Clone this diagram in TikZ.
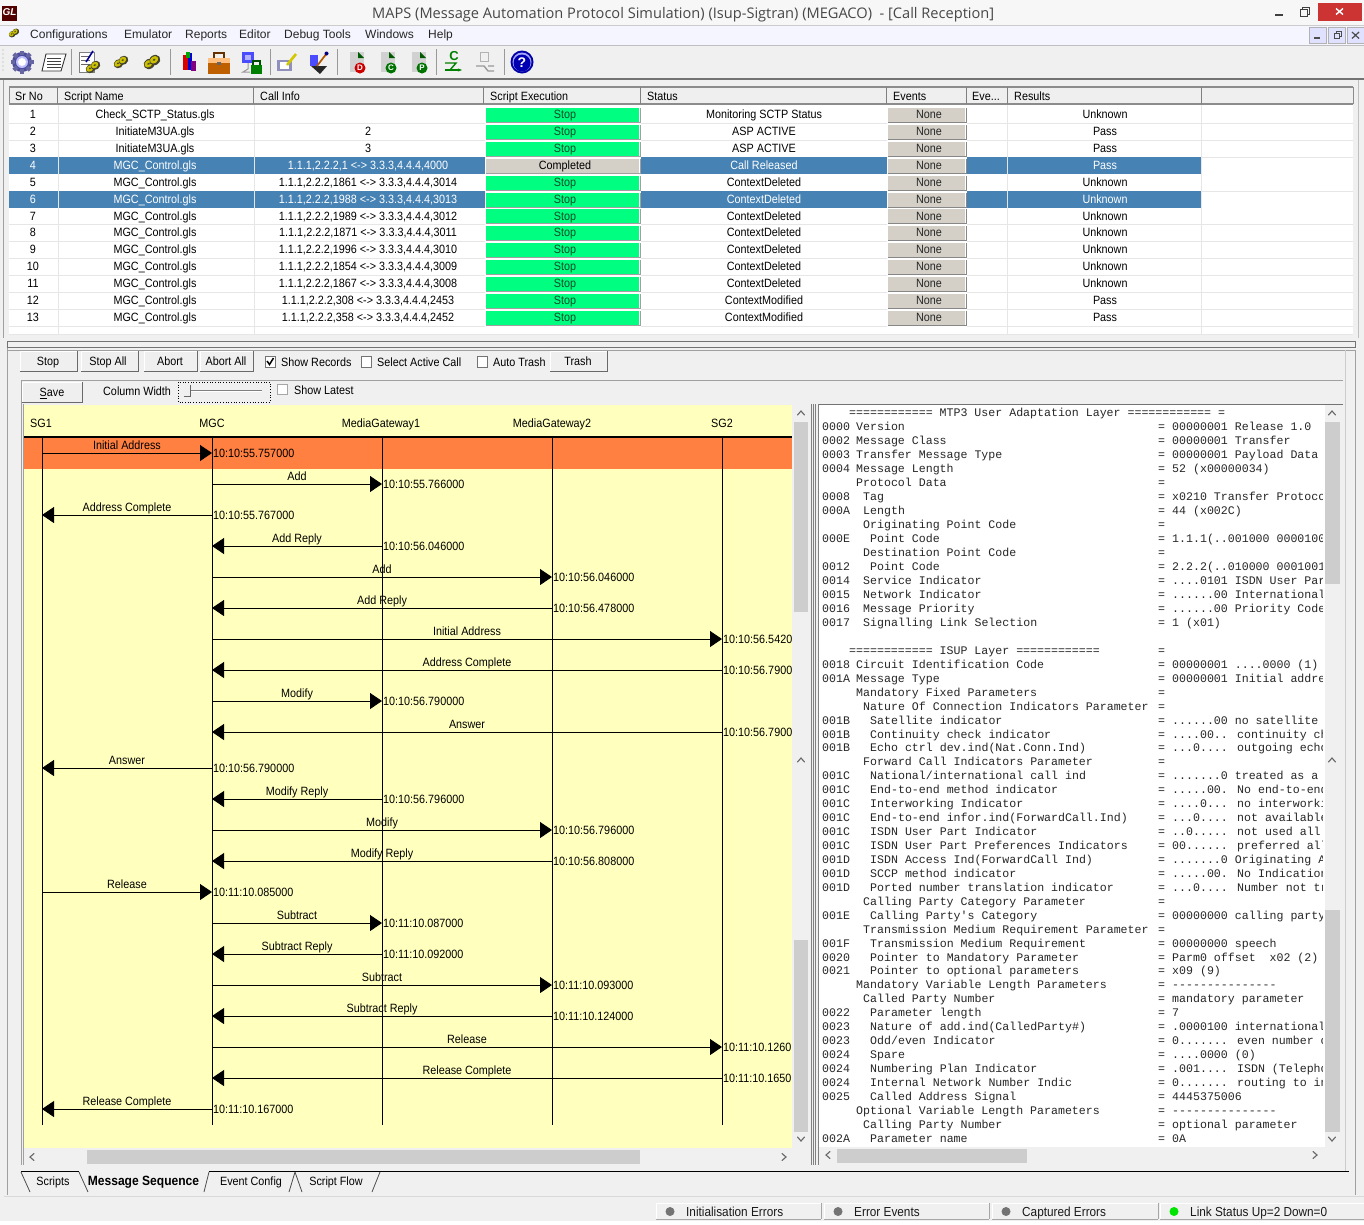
\documentclass[tikz,border=0pt]{standalone}
\usepackage{fontspec}
\setmainfont{Liberation Sans}
\newfontfamily\uifont[FakeStretch=0.9]{Liberation Sans}
\newfontfamily\titlefont{Open Sans}
\newfontfamily\monofnt{Liberation Mono}
\usetikzlibrary{arrows.meta,shapes.geometric}
\definecolor{winbg}{HTML}{F0F0F0}
\definecolor{sel}{HTML}{4682B4}
\definecolor{runbtn}{HTML}{00FF80}
\definecolor{dimbtn}{HTML}{D4D0C8}
\definecolor{seqbg}{HTML}{FFFFBE}
\definecolor{band}{HTML}{FF8040}
\definecolor{thumb}{HTML}{CDCDCD}
\definecolor{edge}{HTML}{A0A0A0}
\definecolor{darkedge}{HTML}{696969}
\definecolor{gridc}{HTML}{E6E6E6}
\definecolor{stoptext}{HTML}{0A4A2A}
\definecolor{btnface}{HTML}{EFEFEF}
\tikzset{
  x=1pt,y=-1pt,
  ui/.style={inner sep=0pt,anchor=base,font=\uifont\fontsize{12}{14}\selectfont,text=black},
  uil/.style={ui,anchor=base west},
  stat/.style={inner sep=0pt,anchor=base west,font=\uifont\fontsize{13.1}{15}\selectfont,text=black!90},
  menu/.style={inner sep=0pt,anchor=base west,font=\fontsize{12}{14}\selectfont,text=black!85},
  mono/.style={inner sep=0pt,anchor=base west,font=\monofnt\fontsize{11.6}{13}\selectfont,text=black!85},
  msgline/.style={draw=black,line width=0.9pt},
  msgarrow/.style={msgline,-{Triangle[length=12pt,width=16pt]}},
  lifeline/.style={draw=black,line width=0.9pt},
  chk/.style={draw=black!55,fill=white,line width=0.7pt},
  scrarrow/.style={draw=black!60,line width=1.1pt,line cap=round},
}
% raised button
\newcommand{\rbtn}[4]{%x0,y0,x1,y1
  \fill[btnface] (#1,#2) rectangle (#3,#4);
  \draw[white,line width=1pt] (#1,#4)--(#1,#2)--(#3,#2);
  \draw[darkedge,line width=1pt] (#1,#4)--(#3,#4)--(#3,#2);
}
% table row
\newcommand{\trow}[9]{%top y,base,sr,name,call,exec,status,result,selected
  \ifnum#9=1 \fill[sel] (9,#1) rectangle (1201,#1+16.9); \def\tc{white}\else\def\tc{black}\fi
  \node[ui,text=\tc] at (33,#2-0.5) {#3};
  \node[ui,text=\tc] at (155,#2-0.5) {#4};
  \node[ui,text=\tc] at (368,#2-0.5) {#5};
  \node[ui,text=\tc] at (764,#2-0.5) {#7};
  \node[ui,text=\tc] at (1105,#2-0.5) {#8};
  \fill[white] (485,#1) rectangle (641,#1+16.9);
  \def\ex{#6}\def\cmp{Completed}%
  \ifx\ex\cmp
    \fill[dimbtn] (486,#1+1.5) rectangle (639,#1+15.8);
    \node[ui] at (565,#2-0.5) {Completed};
  \else
    \fill[runbtn] (486,#1+1.5) rectangle (639,#1+15.8);
    \node[ui,text=stoptext] at (565,#2-0.5) {Stop};
  \fi
  \draw[edge,line width=1pt] (486,#1+16)--(640,#1+16)--(640,#1+1.5);
  \fill[white] (887,#1) rectangle (967,#1+16.9);
  \fill[dimbtn] (888,#1+1.5) rectangle (965,#1+15.8);
  \draw[darkedge!80,line width=1pt] (888,#1+16)--(966,#1+16)--(966,#1+1.5);
  \node[ui,text=black!85] at (929,#2-0.5) {None};
  \ifnum#9=1\else
   \draw[gridc,line width=0.7pt] (9,#1+16.9)--(485,#1+16.9) (641,#1+16.9)--(887,#1+16.9) (967,#1+16.9)--(1353,#1+16.9);
  \fi
}
\newcounter{mcnt}
\newcommand{\msg}[6]{%y,from,to,label,time x lifeline,time
  \stepcounter{mcnt}%
  \coordinate (ms\themcnt) at (#2 |- 0,#1);
  \coordinate (me\themcnt) at (#3 |- 0,#1);
  \draw[msgarrow] (ms\themcnt) -- (me\themcnt);
  \path (ms\themcnt) -- (me\themcnt) node[midway,ui,yshift=4pt] (ml\themcnt) {#4};
  \node[uil,anchor=base west] (mt\themcnt) at ([xshift=1pt,yshift=-4.5pt]#5 |- 0,#1) {#6};
}
\newcounter{rline}
\def\rbase{426}\def\rstep{14}
\newcommand{\rl}[4]{%code,level x,text,value
  \pgfmathsetmacro{\ry}{\rbase+\therline*\rstep+4.3}%
  \node[mono] at (822,\ry) {#1};
  \node[mono] at (#2,\ry) {#3};
  \node[mono] at (1158,\ry) {=};
  \node[mono] at (1172,\ry) {#4};
  \stepcounter{rline}%
}
% scrollbar glyphs
\newcommand{\aup}[2]{\draw[scrarrow] (#1-3.5,#2+2)--(#1,#2-2)--(#1+3.5,#2+2);}
\newcommand{\adn}[2]{\draw[scrarrow] (#1-3.5,#2-2)--(#1,#2+2)--(#1+3.5,#2-2);}
\newcommand{\alf}[2]{\draw[scrarrow] (#1+2,#2-3.5)--(#1-2,#2)--(#1+2,#2+3.5);}
\newcommand{\art}[2]{\draw[scrarrow] (#1-2,#2-3.5)--(#1+2,#2)--(#1-2,#2+3.5);}
% icons
\newcommand{\coil}[3]{% x,y,size
  \foreach \d in {-1,1}{
   \fill[rotate around={35:(#1,#2)},fill=black!65!olive] (#1+\d*#3*.42,#2) ellipse ({#3*.72} and {#3*.62});
   \fill[rotate around={35:(#1,#2)},fill=yellow!55!olive] (#1+\d*#3*.42-0.4,#2-0.6) ellipse ({#3*.55} and {#3*.42});
   \fill[rotate around={35:(#1,#2)},fill=black!55!olive] (#1+\d*#3*.42-0.4,#2-0.6) ellipse ({#3*.2} and {#3*.14});
  }
}
\newcommand{\pagei}[6]{% x,y,circle colour,letter,letter colour
  \fill[black!18] (#1-7,#2-10) rectangle (#1+7,#2+10);
  \fill[#6] (#1+1,#2-10)--(#1+7,#2-4)--(#1+1,#2-4)--cycle;
  \fill[#3] (#1+3,#2+6) circle (5.5);
  \node[inner sep=0pt,font=\bfseries\fontsize{8}{8}\selectfont,text=#5] at (#1+3,#2+6) {#4};
}
\begin{document}
\begin{tikzpicture}
\useasboundingbox (0,0) rectangle (1364,1224);
\fill[winbg] (0,0) rectangle (1364,1224);
%% title bar
\fill[white!97!black] (0,0) rectangle (1364,25);
\fill[black!60!red!80!black] (2,6) rectangle (17,21);
\node[inner sep=0pt,font=\bfseries\itshape\fontsize{10}{10}\selectfont,text=white] (logo) at (9.5,12.5) {GL};
\node[inner sep=0pt,anchor=base west,font=\titlefont\fontsize{14.6}{16}\selectfont,text=black!72] (title) at (372,18.5) {MAPS (Message Automation Protocol Simulation) (Isup-Sigtran) (MEGACO)\ \ - [Call Reception]};
\fill[black!75] (1275,14) rectangle (1283,15.5);
\draw[black!75,line width=1pt] (1300,9) rectangle (1307,16);
\draw[black!75,line width=1pt] (1302,9)--(1302,7)--(1309,7)--(1309,14)--(1307,14);
\fill[red!60!gray] (1318,3) rectangle (1362,21);
\draw[white,line width=1.4pt] (1336,8.5)--(1343,14.5) (1343,8.5)--(1336,14.5);
%% menu
\fill[white!96!blue] (0,25) rectangle (1364,45);
\draw[black!20] (0,25)--(1364,25);
\coil{14}{33}{5}
\node[menu] (m1) at (30,38.5) {Configurations};
\node[menu] (m2) at (124,38.5) {Emulator};
\node[menu] (m3) at (185,38.5) {Reports};
\node[menu] (m4) at (239,38.5) {Editor};
\node[menu] (m5) at (284,38.5) {Debug Tools};
\node[menu] (m6) at (365,38.5) {Windows};
\node[menu] (m7) at (428,38.5) {Help};
\foreach \a/\b in {1309/1326,1328/1345,1347/1364}{
  \fill[blue!12!white] (\a,27) rectangle (\b,43);
  \draw[black!30] (\a,27) rectangle (\b,43);
}
\fill[black!70] (1314,37) rectangle (1320,38.5);
\draw[black!70] (1334,33) rectangle (1339,38) (1336,33)--(1336,31)--(1341,31)--(1341,36)--(1339,36);
\draw[black!70,line width=1.2pt] (1352,32)--(1359,38.5) (1359,32)--(1352,38.5);
%% toolbar
\draw[black!25] (0,45)--(1364,45);
\foreach \yy in {50,54,58,62,66,70}{\fill[black!35] (3,\yy) circle (0.7);}
\foreach \xx in {71,170,270,337,436,504}{\draw[black!40,line width=0.8pt] (\xx,49)--(\xx,75);}
% gear
\fill[black!55!blue!70!white] (22,62) circle (10);
\foreach \ang in {0,45,...,315}{\fill[black!60!blue!60!white,rotate around={\ang:(22,62)}] (20,50.5) rectangle (24,55);}
\fill[blue!25!white] (22,62) circle (6);
\fill[white] (22,62) circle (4);
% doc
\fill[white] (46,54)--(66,54)--(61,71)--(42,71)--cycle;
\draw[black!80,line width=0.9pt] (46,54)--(66,54)--(61,71)--(42,71)--cycle;
\foreach \yy in {58,61,64,67}{\draw[black!75,line width=0.9pt] (47,\yy)--(61,\yy);}
% doc + coil
\fill[white] (79,52) rectangle (94,72);
\draw[black!50] (79,52) rectangle (94,72);
\foreach \yy in {56,60,64}{\draw[black!60] (81,\yy)--(90,\yy);}
\draw[blue!60!black,line width=1.6pt] (86,62)--(93,51);
\coil{93}{67}{7}
\coil{121}{62}{7}
\coil{152}{62}{8}
% books
\fill[red!85!black] (183,55) rectangle (188,70);
\fill[blue!85!black] (188,53) rectangle (192,70);
\fill[green!65!black] (186,52) rectangle (190,58);
\fill[violet] (191,61) rectangle (196,71);
% briefcase
\fill[orange!75!black] (208,58) rectangle (230,74);
\draw[black!60!orange,line width=1.4pt] (214,58)--(214,53)--(224,53)--(224,58);
\fill[orange!50!white] (208,58) rectangle (230,63);
\fill[black!60] (217,62) rectangle (221,65);
% network
\fill[blue!70!white] (242,52) rectangle (254,63);
\fill[blue!30!white] (245,55) rectangle (251,60);
\draw[black!40,line width=1pt] (248,63)--(248,69)--(243,72)--(250,72);
\fill[green!50!black] (251,65) rectangle (262,74);
\draw[green!30!black,line width=1.2pt] (253,65)--(253,61)--(260,61)--(260,65);
% pen speech
\fill[blue!25!gray!70] (277,60) rectangle (292,71);
\fill[white] (280,62) rectangle (289,69);
\draw[yellow!60!olive,line width=2.6pt] (287,65)--(296,54);
% wand
\fill[black!85] (311,66)--(327,66)--(320,74)--cycle;
\fill[blue!70!white] (310,55) rectangle (318,66);
\draw[orange!70!black,line width=1.7pt] (317,66)--(327,53);
\fill[blue!50!black] (326.5,53.5) circle (2);
% pages
\pagei{357}{62}{red!80!black}{D}{white}{green!35!black}
\pagei{388}{62}{green!45!black}{C}{white}{green!35!black}
\pagei{419}{62}{green!45!black}{P}{white}{green!35!black}
\node[inner sep=0pt,font=\bfseries\fontsize{13}{13}\selectfont,text=green!50!black] (cico) at (454,56) {C};
\draw[green!50!black,line width=1.4pt,-{Stealth[length=4pt]}] (445,70)--(462,70);
\draw[green!50!black,line width=1.4pt] (445,63)--(456,63)--(450,70);
\draw[black!30,line width=1pt] (480,52) rectangle (488,61);
\draw[black!40,line width=1.4pt] (476,66)--(484,66)--(488,71)--(494,71) (488,66)--(494,66);
% help
\fill[blue!65!black] (522,62) circle (11.5);
\fill[blue!35!white] (522,62) circle (9.5);
\fill[blue!70!black] (522,63) circle (8.5);
\node[inner sep=0pt,font=\bfseries\fontsize{14}{14}\selectfont,text=white] (hico) at (522,62.5) {?};
\draw[black!55,line width=1.2pt] (0,79)--(1364,79);
%% table
\draw[edge,line width=0.8pt] (3,80)--(3,338);
\draw[black!25,line width=0.8pt] (1358,80)--(1358,338);
\fill[white] (9,104) rectangle (1353,335);
\fill[btnface] (9,87) rectangle (1353,104);
\draw[black!45,line width=1.2pt] (9,87)--(1353,87) (9,104)--(1353,104);
\foreach \xx in {57,253,483,640,886,966,1007,1201}{\draw[black!50,line width=1pt] (\xx,87)--(\xx,104);}
\draw[black!45,line width=0.8pt] (9,87)--(9,104) (1353,87)--(1353,104);
\foreach \tx/\tlab in {15/Sr No,64/Script Name,260/Call Info,490/Script Execution,647/Status,893/Events,1014/Results}{
  \node[uil] at (\tx,100) {\tlab};
}
\node[uil] (hEve) at (972,100) {Eve...};
\trow{106.5}{119}{1}{Check\_SCTP\_Status.gls}{}{Stop}{Monitoring SCTP Status}{Unknown}{0}
\trow{123.4}{136}{2}{InitiateM3UA.gls}{2}{Stop}{ASP ACTIVE}{Pass}{0}
\trow{140.3}{153}{3}{InitiateM3UA.gls}{3}{Stop}{ASP ACTIVE}{Pass}{0}
\trow{157.2}{170}{4}{MGC\_Control.gls}{1.1.1,2.2.2,1 <-> 3.3.3,4.4.4,4000}{Completed}{Call Released}{Pass}{1}
\trow{174.1}{186.5}{5}{MGC\_Control.gls}{1.1.1,2.2.2,1861 <-> 3.3.3,4.4.4,3014}{Stop}{ContextDeleted}{Unknown}{0}
\trow{191}{203.5}{6}{MGC\_Control.gls}{1.1.1,2.2.2,1988 <-> 3.3.3,4.4.4,3013}{Stop}{ContextDeleted}{Unknown}{1}
\trow{207.9}{220.5}{7}{MGC\_Control.gls}{1.1.1,2.2.2,1989 <-> 3.3.3,4.4.4,3012}{Stop}{ContextDeleted}{Unknown}{0}
\trow{224.8}{237}{8}{MGC\_Control.gls}{1.1.1,2.2.2,1871 <-> 3.3.3,4.4.4,3011}{Stop}{ContextDeleted}{Unknown}{0}
\trow{241.7}{254}{9}{MGC\_Control.gls}{1.1.1,2.2.2,1996 <-> 3.3.3,4.4.4,3010}{Stop}{ContextDeleted}{Unknown}{0}
\trow{258.6}{271}{10}{MGC\_Control.gls}{1.1.1,2.2.2,1854 <-> 3.3.3,4.4.4,3009}{Stop}{ContextDeleted}{Unknown}{0}
\trow{275.5}{288}{11}{MGC\_Control.gls}{1.1.1,2.2.2,1867 <-> 3.3.3,4.4.4,3008}{Stop}{ContextDeleted}{Unknown}{0}
\trow{292.4}{305}{12}{MGC\_Control.gls}{1.1.1,2.2.2,308 <-> 3.3.3,4.4.4,2453}{Stop}{ContextModified}{Pass}{0}
\trow{309.3}{322}{13}{MGC\_Control.gls}{1.1.1,2.2.2,358 <-> 3.3.3,4.4.4,2452}{Stop}{ContextModified}{Pass}{0}
\foreach \xx in {58,254,1007,1201}{\draw[gridc,line width=0.7pt] (\xx,105)--(\xx,335);}
\draw[gridc,line width=0.7pt] (9,334)--(1353,334);
%% divider
\draw[black!55,line width=0.9pt,fill=winbg] (7,341) rectangle (1355,347.5);
\draw[edge,line width=0.8pt] (7,350)--(1355,350) (7,347.5)--(7,1195) (1355,350)--(1355,1195);
\draw[black!20,line width=0.8pt] (1345,350)--(1345,1172);
%% control row
\rbtn{20}{351}{77}{371}
\rbtn{81}{351}{138}{371}
\rbtn{144}{351}{197}{371}
\rbtn{200}{351}{253}{371}
\rbtn{550}{351}{607}{371}
\node[ui] (bstop) at (48,365) {Stop};
\node[ui] (bstopall) at (108,365) {Stop All};
\node[ui] (babort) at (170,365) {Abort};
\node[ui] (babortall) at (226,365) {Abort All};
\node[ui] (btrash) at (578,365) {Trash};
\draw[chk] (265,356) rectangle (275,367);
\draw[black,line width=1.5pt] (267,361)--(269.5,364.5)--(273.5,358);
\node[uil] (lrec) at (281,366) {Show Records};
\draw[chk] (361,356) rectangle (371,367);
\node[uil] (lact) at (377,366) {Select Active Call};
\draw[chk] (477,356) rectangle (487,367);
\node[uil] (ltrash) at (493,366) {Auto Trash};
\rbtn{22}{382}{82}{402}
\node[ui] (bsave) at (52,396.5) {\underline{S}ave};
\node[uil] (lcw) at (103,395) {Column Width};
\draw[black,dotted,line width=0.7pt] (178,382) rectangle (270,402);
\draw[black!50,line width=1pt] (187,390)--(262,390);
\draw[white,line width=1pt] (187,391)--(262,391);
\fill[btnface] (184,385) rectangle (190,396);
\draw[black!60] (184,396)--(190,396)--(190,385);
\draw[chk,draw=black!35] (277,384) rectangle (287,394);
\node[uil] (llat) at (294,394) {Show Latest};
\draw[edge,line width=0.8pt] (21,380)--(1343,380);
\draw[edge,line width=0.8pt] (21,380)--(21,1165) (23,404)--(23,1165);
%% sequence panel
\fill[seqbg] (24,405) rectangle (792,1148);
\coordinate (SG1) at (42,438);
\coordinate (MGC) at (212,438);
\coordinate (MGA) at (382,438);
\coordinate (MGB) at (552,438);
\coordinate (SGB) at (722,438);
\coordinate (SG1e) at (42,1125);
\coordinate (MGCe) at (212,1125);
\coordinate (MGAe) at (382,1125);
\coordinate (MGBe) at (552,1125);
\coordinate (SGBe) at (722,1125);
\begin{scope}
\clip (24,405) rectangle (792,1148);
\fill[band] (24,438) rectangle (792,469);
\draw[black,line width=1.6pt] (24,437)--(792,437);
\node[ui] (hSG1) at (41,427) {SG1};
\node[ui] (hMGC) at (212,427) {MGC};
\node[ui] (hMGA) at (381,427) {MediaGateway1};
\node[ui] (hMGB) at (552,427) {MediaGateway2};
\node[ui] (hSGB) at (722,427) {SG2};
\draw[lifeline] (SG1)--(SG1e);
\draw[lifeline] (MGC)--(MGCe);
\draw[lifeline] (MGA)--(MGAe);
\draw[lifeline] (MGB)--(MGBe);
\draw[lifeline] (SGB)--(SGBe);
\msg{453}{SG1}{MGC}{Initial Address}{MGC}{10:10:55.757000}
\msg{484}{MGC}{MGA}{Add}{MGA}{10:10:55.766000}
\msg{515}{MGC}{SG1}{Address Complete}{MGC}{10:10:55.767000}
\msg{546}{MGA}{MGC}{Add Reply}{MGA}{10:10:56.046000}
\msg{577}{MGC}{MGB}{Add}{MGB}{10:10:56.046000}
\msg{608}{MGB}{MGC}{Add Reply}{MGB}{10:10:56.478000}
\msg{639}{MGC}{SGB}{Initial Address}{SGB}{10:10:56.5420}
\msg{670}{SGB}{MGC}{Address Complete}{SGB}{10:10:56.7900}
\msg{701}{MGC}{MGA}{Modify}{MGA}{10:10:56.790000}
\msg{732}{SGB}{MGC}{Answer}{SGB}{10:10:56.7900}
\msg{768}{MGC}{SG1}{Answer}{MGC}{10:10:56.790000}
\msg{799}{MGA}{MGC}{Modify Reply}{MGA}{10:10:56.796000}
\msg{830}{MGC}{MGB}{Modify}{MGB}{10:10:56.796000}
\msg{861}{MGB}{MGC}{Modify Reply}{MGB}{10:10:56.808000}
\msg{892}{SG1}{MGC}{Release}{MGC}{10:11:10.085000}
\msg{923}{MGC}{MGA}{Subtract}{MGA}{10:11:10.087000}
\msg{954}{MGA}{MGC}{Subtract Reply}{MGA}{10:11:10.092000}
\msg{985}{MGC}{MGB}{Subtract}{MGB}{10:11:10.093000}
\msg{1016}{MGB}{MGC}{Subtract Reply}{MGB}{10:11:10.124000}
\msg{1047}{MGC}{SGB}{Release}{SGB}{10:11:10.1260}
\msg{1078}{SGB}{MGC}{Release Complete}{SGB}{10:11:10.1650}
\msg{1109}{MGC}{SG1}{Release Complete}{MGC}{10:11:10.167000}
\end{scope}
% sequence scrollbars
\fill[thumb] (794,422) rectangle (808,612);
\fill[thumb] (794,940) rectangle (808,1132);
\aup{801}{413} \aup{801}{760} \adn{801}{1139}
\fill[thumb] (87,1150) rectangle (640,1164);
\alf{32}{1157} \art{784}{1157}
% sash
\draw[black!50,line width=0.8pt] (811,404)--(811,1165) (813,404)--(813,1165) (818,404)--(818,1165) (815.5,404)--(815.5,1165);
%% decode panel
\fill[white] (819,405) rectangle (1325,1147);
\draw[black!55,line width=0.8pt] (819,404)--(1343,404);
\begin{scope}
\clip (819,405) rectangle (1322.5,1147);
\node[mono] (hdrA) at (849,416.3) {============ MTP3 User Adaptation Layer ============ =};
\def\rbase{426}\def\rstep{14}
\setcounter{rline}{0}
\rl{0000}{856}{Version}{00000001 Release 1.0}
\rl{0002}{856}{Message Class}{00000001 Transfer}
\rl{0003}{856}{Transfer Message Type}{00000001 Payload Data}
\rl{0004}{856}{Message Length}{52 (x00000034)}
\rl{}{856}{Protocol Data}{}
\rl{0008}{863}{Tag}{x0210 Transfer Protocol}
\rl{000A}{863}{Length}{44 (x002C)}
\rl{}{863}{Originating Point Code}{}
\rl{000E}{870}{Point Code}{1.1.1(..001000 00001000)}
\rl{}{863}{Destination Point Code}{}
\rl{0012}{870}{Point Code}{2.2.2(..010000 00010010)}
\rl{0014}{863}{Service Indicator}{....0101 ISDN User Part}
\rl{0015}{863}{Network Indicator}{......00 International}
\rl{0016}{863}{Message Priority}{......00 Priority Code}
\rl{0017}{863}{Signalling Link Selection}{1 (x01)}
\node[mono] (hdrB) at (849,654.3) {============ ISUP Layer ============};
\node[mono] (hdrBe) at (1158,654.3) {=};
\def\rbase{664}\def\rstep{13.94}
\setcounter{rline}{0}
\rl{0018}{856}{Circuit Identification Code}{00000001 ....0000 (1)}
\rl{001A}{856}{Message Type}{00000001 Initial address}
\rl{}{856}{Mandatory Fixed Parameters}{}
\rl{}{863}{Nature Of Connection Indicators Parameter}{}
\rl{001B}{870}{Satellite indicator}{......00 no satellite}
\rl{001B}{870}{Continuity check indicator}{....00.. continuity check}
\rl{001B}{870}{Echo ctrl dev.ind(Nat.Conn.Ind)}{...0.... outgoing echo}
\rl{}{863}{Forward Call Indicators Parameter}{}
\rl{001C}{870}{National/international call ind}{.......0 treated as a}
\rl{001C}{870}{End-to-end method indicator}{.....00. No end-to-end}
\rl{001C}{870}{Interworking Indicator}{....0... no interworking}
\rl{001C}{870}{End-to-end infor.ind(ForwardCall.Ind)}{...0.... not available}
\rl{001C}{870}{ISDN User Part Indicator}{..0..... not used all}
\rl{001C}{870}{ISDN User Part Preferences Indicators}{00...... preferred all}
\rl{001D}{870}{ISDN Access Ind(ForwardCall Ind)}{.......0 Originating A}
\rl{001D}{870}{SCCP method indicator}{.....00. No Indication}
\rl{001D}{870}{Ported number translation indicator}{...0.... Number not tr}
\rl{}{863}{Calling Party Category Parameter}{}
\rl{001E}{870}{Calling Party's Category}{00000000 calling party}
\rl{}{863}{Transmission Medium Requirement Parameter}{}
\rl{001F}{870}{Transmission Medium Requirement}{00000000 speech}
\rl{0020}{870}{Pointer to Mandatory Parameter}{Parm0 offset\ \ x02 (2)}
\rl{0021}{870}{Pointer to optional parameters}{x09 (9)}
\rl{}{856}{Mandatory Variable Length Parameters}{---------------}
\rl{}{863}{Called Party Number}{mandatory parameter}
\rl{0022}{870}{Parameter length}{7}
\rl{0023}{870}{Nature of add.ind(CalledParty\#)}{.0000100 international}
\rl{0023}{870}{Odd/even Indicator}{0....... even number of}
\rl{0024}{870}{Spare}{....0000 (0)}
\rl{0024}{870}{Numbering Plan Indicator}{.001.... ISDN (Telephony)}
\rl{0024}{870}{Internal Network Number Indic}{0....... routing to int}
\rl{0025}{870}{Called Address Signal}{4445375006}
\rl{}{856}{Optional Variable Length Parameters}{---------------}
\rl{}{863}{Calling Party Number}{optional parameter}
\rl{002A}{870}{Parameter name}{0A}
\end{scope}
% decode scrollbars
\fill[thumb] (1325,422) rectangle (1340,584);
\fill[thumb] (1325,910) rectangle (1340,1132);
\aup{1332}{413} \aup{1332}{760} \adn{1332}{1139}
\fill[thumb] (837,1149) rectangle (1027,1163);
\alf{828}{1155} \art{1315}{1155}
%% tabs
\draw[black,line width=1pt] (21,1171.5)--(79,1171.5) (209,1171.5)--(1349,1171.5);
\fill[winbg] (81,1172) rectangle (207,1192);
\draw[black!70,line width=0.8pt] (21,1172)--(30,1192) (79,1172)--(88,1192) (209,1172)--(204,1192) (295,1172)--(302,1192) (295,1172)--(289,1192) (380,1172)--(372,1192);
\node[ui] (tab1) at (53,1185.5) {Scripts};
\node[ui,font=\uifont\bfseries\fontsize{13.4}{15}\selectfont] (tab2) at (143.5,1185.5) {Message Sequence};
\node[ui] (tab3) at (251,1185.5) {Event Config};
\node[ui] (tab4) at (336,1185.5) {Script Flow};
%% status bar
\draw[black!15,line width=1pt] (4,1196)--(1364,1196);
\fill[white] (0,1221) rectangle (1364,1224);
\foreach \a/\b in {656/821,824/989,992/1158,1160/1364}{
  \fill[winbg] (\a,1203) rectangle (\b,1219);
  \draw[white,line width=0.9pt] (\a,1219)--(\a,1203)--(\b,1203);
  \draw[black!35,line width=0.9pt] (\a,1219.5)--(\b,1219.5);
}
\draw[black!35,line width=0.9pt] (821,1203)--(821,1219) (989,1203)--(989,1219) (1158,1203)--(1158,1219);
\fill[black!55] (670,1211.5) circle (4.5);
\fill[black!55] (838,1211.5) circle (4.5);
\fill[black!55] (1006,1211.5) circle (4.5);
\fill[green!90!black] (1174,1211.5) circle (4.5);
\node[stat] (s1) at (686,1216) {Initialisation Errors};
\node[stat] (s2) at (854,1216) {Error Events};
\node[stat] (s3) at (1022,1216) {Captured Errors};
\node[stat] (s4) at (1190,1216) {Link Status Up=2 Down=0};
\end{tikzpicture}
\end{document}
